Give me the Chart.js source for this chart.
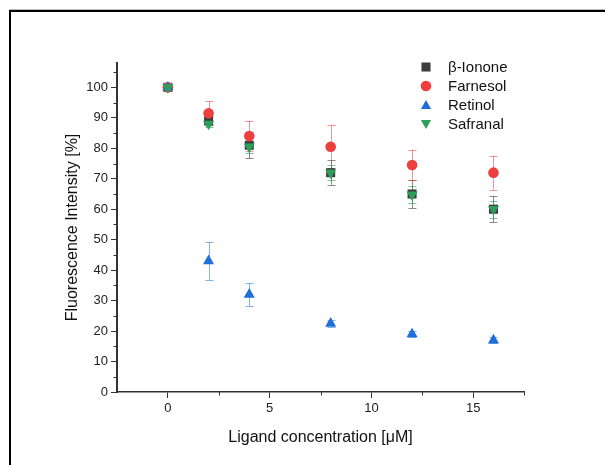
<!DOCTYPE html>
<html>
<head>
<meta charset="utf-8">
<script src="https://cdn.jsdelivr.net/npm/chart.js@4/dist/chart.umd.min.js"></script>
<style>
  html, body { margin: 0; padding: 0; background: #fff; }
  #wrap { position: relative; width: 605px; height: 465px; overflow: hidden; }
  #frame { position: absolute; left: 9px; top: 10px; width: 700px; height: 600px;
           border-top: 2px solid #000; border-left: 2px solid #000;
           box-shadow: 0 -1px 0 #bbb; }
  canvas { position: absolute; left: 0; top: 0; }
</style>
</head>
<body>
<div id="wrap">
  <div id="frame"></div>
  <canvas id="c" width="605" height="465"></canvas>
</div>
<script>
// ---- data ----
const concentrations = [0, 2, 4, 8, 12, 16];
const ionone       = [100, 89, 81, 72, 65, 60];
const iononeErr    = [0, 1.5, 4.3, 4, 4.6, 4.3];
const farnesol     = [100, 91.5, 84, 80.5, 74.5, 72];
const farnesolErr  = [0, 4, 5, 7, 5, 5.6];
const retinol      = [100, 43, 32, 22.5, 19, 17];
const retinolErr   = [0, 6.2, 3.7, 1, 1, 1];
const safranal     = [100, 88, 80.5, 72, 64.8, 60];
const safranalErr  = [0, 1, 2, 2.4, 2.8, 2.8];
const xMajorTicks = [0, 5, 10, 15];
const xMinorTicks = [2.5, 7.5, 12.5, 17.5];
const yMajorTicks = [0, 10, 20, 30, 40, 50, 60, 70, 80, 90, 100];
const yMinorTicks = [5, 15, 25, 35, 45, 55, 65, 75, 85, 95, 105];

const FONT = '"Liberation Sans", Arial, sans-serif';

const series = [
  { label: 'β-Ionone', values: ionone,   errors: iononeErr,   color: '#3d3d3d', err: 'rgba(61,61,61,0.6)',   style: 'rect',     radius: 6.4, rot: 0,   order: 4 },
  { label: 'Farnesol', values: farnesol, errors: farnesolErr, color: '#ef3e3e', err: 'rgba(239,62,62,0.55)', style: 'circle',   radius: 5.3, rot: 0,   order: 3 },
  { label: 'Retinol',  values: retinol,  errors: retinolErr,  color: '#1f6fdb', err: 'rgba(31,111,219,0.55)',style: 'triangle', radius: 6.4, rot: 0,   order: 2 },
  { label: 'Safranal', values: safranal, errors: safranalErr, color: '#2e9e5c', err: 'rgba(46,158,92,0.6)',  style: 'triangle', radius: 6.4, rot: 180, order: 1 }
];

const errorBars = {
  id: 'errorBars',
  beforeDatasetsDraw(chart) {
    const ctx = chart.ctx, xs = chart.scales.x, ys = chart.scales.y;
    ctx.save();
    ctx.lineWidth = 1;
    series.forEach(s => {
      ctx.strokeStyle = s.err;
      concentrations.forEach((c, i) => {
        const e = s.errors[i];
        if (!e) return;
        const px = Math.round(xs.getPixelForValue(c)) + 0.5;
        const top = ys.getPixelForValue(s.values[i] + e);
        const bot = ys.getPixelForValue(s.values[i] - e);
        ctx.beginPath();
        ctx.moveTo(px, top); ctx.lineTo(px, bot);
        ctx.moveTo(px - 4, Math.round(top) + 0.5); ctx.lineTo(px + 4, Math.round(top) + 0.5);
        ctx.moveTo(px - 4, Math.round(bot) + 0.5); ctx.lineTo(px + 4, Math.round(bot) + 0.5);
        ctx.stroke();
      });
    });
    ctx.restore();
  }
};

const minorTicks = {
  id: 'minorTicks',
  afterDraw(chart) {
    const ctx = chart.ctx, xs = chart.scales.x, ys = chart.scales.y, a = chart.chartArea;
    ctx.save();
    ctx.strokeStyle = '#333';
    ctx.lineWidth = 1;
    ctx.beginPath();
    yMinorTicks.forEach(v => {
      const py = Math.round(ys.getPixelForValue(v)) + 0.5;
      ctx.moveTo(a.left - 3.5, py); ctx.lineTo(a.left, py);
    });
    xMinorTicks.forEach(v => {
      const px = Math.round(xs.getPixelForValue(v)) + 0.5;
      ctx.moveTo(px, a.bottom); ctx.lineTo(px, a.bottom + 3.5);
    });
    ctx.stroke();
    ctx.restore();
  }
};

function drawMarker(ctx, style, x, y, r, rot) {
  ctx.beginPath();
  if (style === 'circle') {
    ctx.arc(x, y, r, 0, Math.PI * 2);
  } else if (style === 'rect') {
    const h = r * Math.SQRT1_2;
    ctx.rect(x - h, y - h, 2 * h, 2 * h);
  } else {
    const a = rot * Math.PI / 180;
    for (let k = 0; k < 3; k++) {
      const t = a + k * 2 * Math.PI / 3;
      const px = x + Math.sin(t) * r * 0.95, py = y - Math.cos(t) * r * 0.95;
      if (k === 0) ctx.moveTo(px, py); else ctx.lineTo(px, py);
    }
    ctx.closePath();
  }
  ctx.fill();
}

const insideLegend = {
  id: 'insideLegend',
  afterDraw(chart) {
    const ctx = chart.ctx;
    ctx.save();
    ctx.font = '15px ' + FONT;
    ctx.textBaseline = 'middle';
    ctx.textAlign = 'left';
    series.forEach((s, i) => {
      const y = 67 + i * 19;
      ctx.fillStyle = s.color;
      drawMarker(ctx, s.style, 426, y + (s.style === 'triangle' ? (s.rot ? -1 : 1) : 0), s.style === 'circle' ? 5.3 : (s.style === 'rect' ? 6.4 : 6.2), s.rot);
      ctx.fillStyle = '#111';
      ctx.fillText(s.label, 448, y + 1);
    });
    ctx.restore();
  }
};

new Chart(document.getElementById('c'), {
  type: 'scatter',
  data: {
    datasets: series.map(s => ({
      label: s.label,
      data: concentrations.map((c, i) => ({ x: c, y: s.values[i] })),
      backgroundColor: s.color,
      borderColor: s.color,
      borderWidth: 0,
      pointStyle: s.style,
      pointRadius: s.radius,
      pointRotation: s.rot,
      order: s.order
    }))
  },
  options: {
    responsive: false,
    animation: false,
    devicePixelRatio: 1,
    layout: { padding: { left: 60, top: 63, right: 81, bottom: 14 } },
    plugins: { legend: { display: false }, tooltip: { enabled: false } },
    scales: {
      x: {
        type: 'linear', min: -2.5, max: 17.5,
        afterBuildTicks: s => { s.ticks = xMajorTicks.map(v => ({ value: v })); },
        afterFit: s => { s.height = 59; },
        grid: { drawOnChartArea: false, drawTicks: true, tickLength: 6, color: '#333', tickWidth: 1 },
        border: { display: true, color: '#333', width: 1.5 },
        ticks: { color: '#222', font: { family: FONT, size: 13 }, padding: 3, maxRotation: 0 },
        title: { display: true, text: 'Ligand concentration [μM]', color: '#111', font: { family: FONT, size: 16 }, padding: { top: 4, bottom: 4 } }
      },
      y: {
        type: 'linear', min: 0, max: 108,
        afterBuildTicks: s => { s.ticks = yMajorTicks.map(v => ({ value: v })); },
        afterFit: s => { s.width = 57; },
        grid: { drawOnChartArea: false, drawTicks: true, tickLength: 6, color: '#333', tickWidth: 1 },
        border: { display: true, color: '#333', width: 2 },
        ticks: { color: '#222', font: { family: FONT, size: 13 }, padding: 3 },
        title: { display: true, text: 'Fluorescence Intensity [%]', color: '#111', font: { family: FONT, size: 16 }, padding: { top: 3, bottom: 3 } }
      }
    }
  },
  plugins: [errorBars, minorTicks, insideLegend]
});
</script>
</body>
</html>
